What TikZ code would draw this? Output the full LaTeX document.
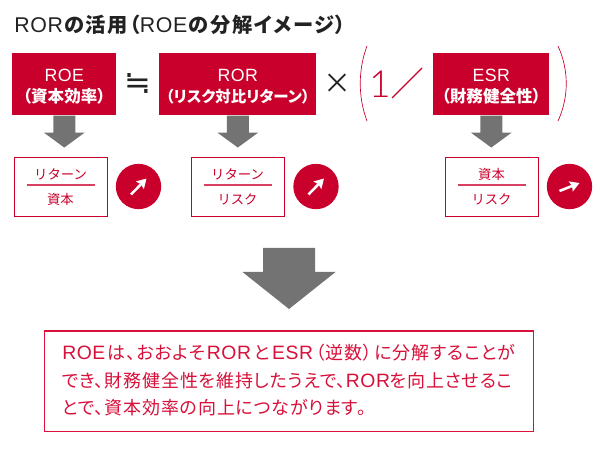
\documentclass[tikz,border=0pt]{standalone}
\usepackage{fontspec}
\setmainfont{Noto Sans CJK JP}
\newfontfamily\pf[RawFeature=+palt]{Noto Sans CJK JP}
\newfontfamily\pfw[RawFeature=+palt,LetterSpace=4.5]{Noto Sans CJK JP}
\newfontfamily\pft[RawFeature=+palt,LetterSpace=8]{Noto Sans CJK JP}
\newfontfamily\latn[LetterSpace=3]{Liberation Sans}
\newfontfamily\onef{Lato Light}
\newfontfamily\symf{DejaVu Sans}
\newcommand{\rl}[2][14.5]{{\latn\fontsize{#1}{16}\selectfont\mdseries #2}}
\newcommand{\hl}[1]{\raisebox{-5.6pt}[0pt][0pt]{#1}}
\definecolor{rorred}{HTML}{C9002B}
\definecolor{txtred}{HTML}{D8103A}
\definecolor{arrgray}{HTML}{737373}
\definecolor{titlek}{HTML}{222222}
\tikzset{
 headbox/.style={fill=rorred,minimum height=46.5pt,inner sep=0pt,align=center,text=white,font=\pf\fontsize{12.4}{16}\selectfont\bfseries,anchor=north west},
 fracbox/.style={draw=rorred,line width=.8pt,fill=white,minimum width=69.8pt,minimum height=44pt,inner sep=0pt,anchor=north west},
 fractxt/.style={text=rorred,font=\fontsize{10}{12}\selectfont,inner sep=0pt},
 fracline/.style={draw=rorred!75,line width=.8pt},
 updot/.style={circle,fill=rorred,minimum size=34pt,inner sep=0pt},
 trend/.style={draw=white,line width=1.9pt,-{Stealth[length=7pt,width=8pt,inset=1pt]}},
 blockarrow/.style={fill=arrgray,draw=none},
 paren/.style={draw=rorred,line width=.5pt},
 bodytxt/.style={text=txtred,font=\pfw\fontsize{13.5}{16}\selectfont,inner sep=0pt,anchor=west},
 optxt/.style={text=titlek,inner sep=0pt}
}
\usetikzlibrary{arrows.meta,calc}
\begin{document}
\begin{tikzpicture}[x=.75pt,y=-.75pt]
\useasboundingbox (0,0) rectangle (600,452);
\node[anchor=west,inner sep=0pt,text=titlek,font=\pft\fontsize{15.2}{18}\selectfont\bfseries] (title) at (14,24.5) {\rl[16]{ROR}\kern1pt の活用（\rl[16]{ROE}\kern1pt の分解イメージ）};
\node[headbox,minimum width=78pt] (roe) at (12,53) {\hl{\rl[13.3]{ROE}}\\\hl{（資本効率）}};
\node[headbox,minimum width=117.8pt] (ror) at (159,53) {\hl{\rl[13.3]{ROR}}\\\hl{\fontsize{11.6}{16}\selectfont（リスク対比リターン）}};
\node[headbox,minimum width=87pt] (esr) at (433,53) {\hl{\rl[13.3]{ESR}}\\\hl{（財務健全性）}};
\node[optxt,font=\symf\fontsize{24}{26}\selectfont] (approx) at (137.5,84) {≒};
\node[optxt,font=\fontsize{21}{24}\selectfont] (times) at (337.5,84) {×};
\node[inner sep=0pt,text=rorred,font=\onef\fontsize{28}{30}\selectfont] (one) at (380.5,84) {1};
\coordinate (sa) at (392,98); \coordinate (sb) at (422,68);
\draw[rorred,line width=.8pt] (sa) -- (sb);
\coordinate (la) at (367,46); \coordinate (lb) at (367,121);
\coordinate (ra) at (558,46); \coordinate (rb) at (558,121);
\draw[paren] (la) .. controls (358,70) and (358,97) .. (lb);
\draw[paren] (ra) .. controls (569,70) and (569,97) .. (rb);
\foreach \n in {roe,ror,esr}{
 \fill[blockarrow] ($(\n.south)+(-11,0)$) -- ++(22,0) -- ++(0,17) -- ++(9.5,0) -- ($(\n.south)+(0,32)$) -- ($(\n.south)+(-20.5,17)$) -- ++(9.5,0) -- cycle;
}
\node[fracbox] (f1) at (13.5,157) {};
\node[fracbox] (f2) at (191,157) {};
\node[fracbox] (f3) at (445,157) {};
\node[fractxt] (f1a) at (60.5,174) {リターン};
\node[fractxt] (f1b) at (60.5,199) {資本};
\node[fractxt] (f2a) at (237.5,174) {リターン};
\node[fractxt] (f2b) at (237.5,199) {リスク};
\node[fractxt] (f3a) at (491.5,174) {資本};
\node[fractxt] (f3b) at (491.5,199) {リスク};
\draw[fracline] (26.5,185) -- (94.5,185);
\draw[fracline] (204,185) -- (272,185);
\draw[fracline] (458,185) -- (526,185);
\node[updot] (c1) at (138.5,186.5) {};
\node[updot] (c2) at (316,186.5) {};
\node[updot] (c3) at (569.5,186.5) {};
\draw[trend] ($(c1)+(-7.5,8)$) -- ($(c1)+(8,-8)$);
\draw[trend] ($(c2)+(-7.5,8)$) -- ($(c2)+(8,-8)$);
\draw[trend] ($(c3)+(-10,4.5)$) -- ($(c3)+(10,-3.5)$);
\coordinate (big) at (289,248);
\fill[blockarrow] ($(big)+(-26,0)$) -- ++(52,0) -- ++(0,24) -- ++(20.5,0) -- ($(big)+(0,61)$) -- ($(big)+(-46.5,24)$) -- ++(20.5,0) -- cycle;
\node[draw=txtred,line width=.8pt,fill=white,minimum width=366.5pt,minimum height=75pt,inner sep=0pt,anchor=north west] (note) at (44,330.5) {};
\node[bodytxt] (l1) at (62,353) {\rl{ROE}\kern2pt は、おおよそ\kern1pt\rl{ROR}\kern2pt と\kern2pt\rl{ESR}\kern2pt（逆数）\kern2pt に分解することが};
\node[bodytxt] (l2) at (62,380.5) {でき、財務健全性を維持したうえで、\rl{ROR}を向上させるこ};
\node[bodytxt] (l3) at (62,408) {とで、資本効率の向上につながります。};
\end{tikzpicture}
\end{document}
